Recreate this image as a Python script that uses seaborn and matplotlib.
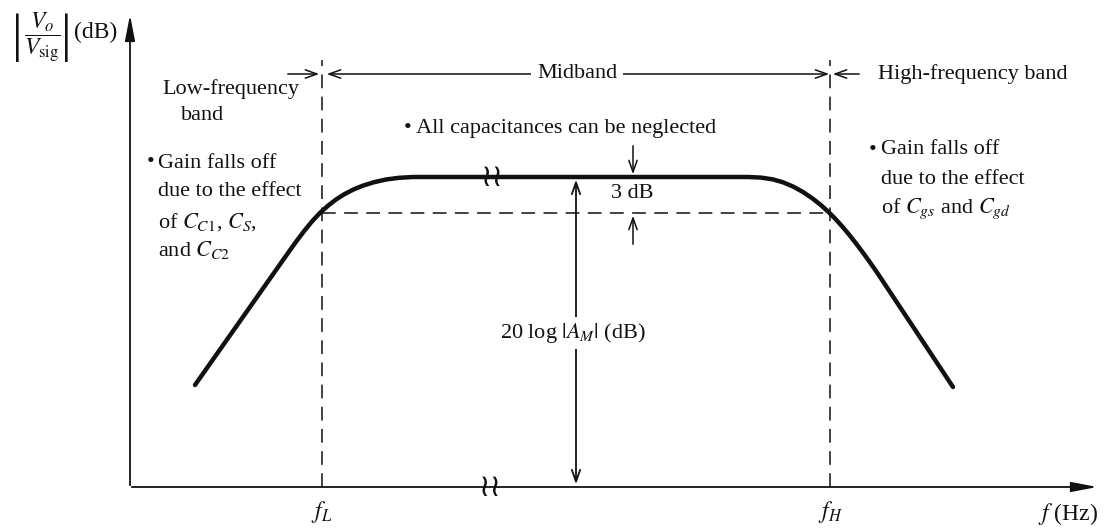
import matplotlib
matplotlib.use("Agg")
import matplotlib.pyplot as plt
import numpy as np
import pandas as pd
import seaborn as sns

# schematic frequency axis (arbitrary log-frequency units) and gain (arbitrary dB units)
F_L = 192
F_H = 700
MID_GAIN = 310
CUTOFF_GAIN = 274  # MID_GAIN - 3 dB

curve_freq = [65, 158, 166, 174, 182, 190, 198, 206, 214, 223, 233, 244, 256, 269, 283, 300,
              600, 618, 631, 643, 653, 663, 673, 683, 691, 698, 705, 712, 719, 726, 733,
              740, 747, 823]
curve_gain = [102, 234, 245.2, 255.8, 265.6, 274.1, 281.3, 287.5, 292.6, 297.3, 301.4,
              304.8, 307.5, 309.2, 310, 310,
              310, 310, 309.4, 307.6, 304.7, 300.5, 295, 288.2, 281.8, 275.5, 268.5,
              260.8, 252.5, 243.6, 234.3, 224.6, 214.6, 100]

AXIS_X_END = 970
AXIS_Y_END = 475
BAND_GAIN = 413
BREAK_FREQ = 362
AM_FREQ = 446
DB3_FREQ = 503

sns.set_theme(style="white")
plt.rcParams["font.family"] = ["Liberation Serif", "DejaVu Serif"]
plt.rcParams["mathtext.fontset"] = "stix"

df = pd.DataFrame({"freq": curve_freq, "gain": curve_gain})

fig = plt.figure(figsize=(11.07, 5.28), dpi=100)
ax = fig.add_axes([0, 0, 1, 1])
ax.set_xlim(-130, 977)
ax.set_ylim(-41, 487)
ax.set_axis_off()

FS = 16
ink = "#111111"

# response curve
sns.lineplot(data=df, x="freq", y="gain", sort=False, ax=ax, color=ink, lw=3.2,
             solid_capstyle="round", solid_joinstyle="round")

# axes with arrows
ax.annotate("", xy=(0, AXIS_Y_END), xytext=(0, -1),
            arrowprops=dict(arrowstyle="-|>,head_length=1.3,head_width=0.25", lw=1.3, color=ink))
ax.annotate("", xy=(AXIS_X_END, 0), xytext=(-1, 0),
            arrowprops=dict(arrowstyle="-|>,head_length=1.3,head_width=0.25", lw=1.3, color=ink))

# dashed guide lines
dash = dict(color=ink, lw=1.1, dashes=(9, 5.5))
ax.plot([F_L, F_L], [0, 427], **dash)
ax.plot([F_H, F_H], [0, 427], **dash)
ax.plot([F_L, F_H], [CUTOFF_GAIN, CUTOFF_GAIN], **dash)

# band arrows at the top
arr = dict(arrowstyle="->,head_length=0.7,head_width=0.25", lw=1.1, color=ink)
ax.annotate("", xy=(F_L, BAND_GAIN), xytext=(F_L - 37, BAND_GAIN), arrowprops=arr)
ax.annotate("", xy=(F_H + 2, BAND_GAIN), xytext=(F_L + 2, BAND_GAIN),
            arrowprops=dict(arrowstyle="<->,head_length=0.7,head_width=0.25", lw=1.1, color=ink))
ax.annotate("", xy=(F_H, BAND_GAIN), xytext=(F_H + 32, BAND_GAIN), arrowprops=arr)
ax.text((F_L + F_H) / 2 + 1, BAND_GAIN, "Midband", fontsize=FS, ha="center", va="center",
        color=ink, bbox=dict(facecolor="white", edgecolor="none", pad=4))
ax.text(F_H + 48, BAND_GAIN, "High-frequency band", fontsize=FS, ha="left", va="center", color=ink)
ax.text(101, 398, "Low-frequency", fontsize=FS, ha="center", va="center", color=ink)
ax.text(73, 371, "band", fontsize=FS, ha="center", va="center", color=ink)

# midband note
ax.text(430, 359, "\u2022 All capacitances can be neglected", fontsize=FS, ha="center",
        va="center", color=ink)

# low-frequency note
lx = 28
ax.text(lx - 4, 324, "\u2022", fontsize=FS, ha="right", va="center", color=ink)
ax.text(lx, 324, "Gain falls off", fontsize=FS, ha="left", va="center", color=ink)
ax.text(lx, 295, "due to the effect", fontsize=FS, ha="left", va="center", color=ink)
ax.text(lx, 265, r"of $C_{C1}$, $C_S$,", fontsize=FS, ha="left", va="center", color=ink)
ax.text(lx, 237, r"and $C_{C2}$", fontsize=FS, ha="left", va="center", color=ink)

# high-frequency note
rx = 751
ax.text(rx - 4, 337, "\u2022", fontsize=FS, ha="right", va="center", color=ink)
ax.text(rx, 337, "Gain falls off", fontsize=FS, ha="left", va="center", color=ink)
ax.text(rx, 308, "due to the effect", fontsize=FS, ha="left", va="center", color=ink)
ax.text(rx, 278, r"of $C_{gs}$ and $C_{gd}$", fontsize=FS, ha="left", va="center", color=ink)

# 3 dB marker
small = dict(arrowstyle="->,head_length=0.7,head_width=0.25", lw=1.1, color=ink)
ax.annotate("", xy=(DB3_FREQ, MID_GAIN), xytext=(DB3_FREQ, MID_GAIN + 34), arrowprops=small)
ax.annotate("", xy=(DB3_FREQ, CUTOFF_GAIN), xytext=(DB3_FREQ, CUTOFF_GAIN - 34), arrowprops=small)
ax.text(DB3_FREQ - 1, (MID_GAIN + CUTOFF_GAIN) / 2 + 1, "3 dB", fontsize=FS, ha="center",
        va="center", color=ink)

# midband gain arrow
ax.annotate("", xy=(AM_FREQ, MID_GAIN), xytext=(AM_FREQ, 0),
            arrowprops=dict(arrowstyle="<->,head_length=0.7,head_width=0.25", lw=1.3, color=ink))
ax.text(AM_FREQ - 3, 154, r"20 log $|A_M|$ (dB)", fontsize=FS, ha="center", va="center",
        color=ink, bbox=dict(facecolor="white", edgecolor="none", pad=3))

# axis breaks
for bx, by in [(BREAK_FREQ, MID_GAIN), (BREAK_FREQ - 2, 0)]:
    ax.text(bx, by, "\u2240\u2240", fontsize=22, ha="center", va="center", color=ink,
            family="DejaVu Sans")

# y label: |Vo / Vsig| (dB), built from pieces so the bars stay thin
ax.text(-88, 449, r"$\dfrac{V_o}{V_{\mathrm{sig}}}$", fontsize=FS + 1, ha="center",
        va="center", color=ink)
ax.text(-113, 449, "|", fontsize=38, ha="center", va="center", color=ink)
ax.text(-64, 449, "|", fontsize=38, ha="center", va="center", color=ink)
ax.text(-56, 455, "(dB)", fontsize=FS + 1, ha="left", va="center", color=ink)

# axis labels
ax.text(F_L, -25, r"$f_L$", fontsize=FS + 1, ha="center", va="center", color=ink)
ax.text(F_H, -25, r"$f_H$", fontsize=FS + 1, ha="center", va="center", color=ink)
ax.text(938, -27, r"$f$ (Hz)", fontsize=FS + 1, ha="center", va="center", color=ink)

fig.savefig("out.png", dpi=100, facecolor="white")
